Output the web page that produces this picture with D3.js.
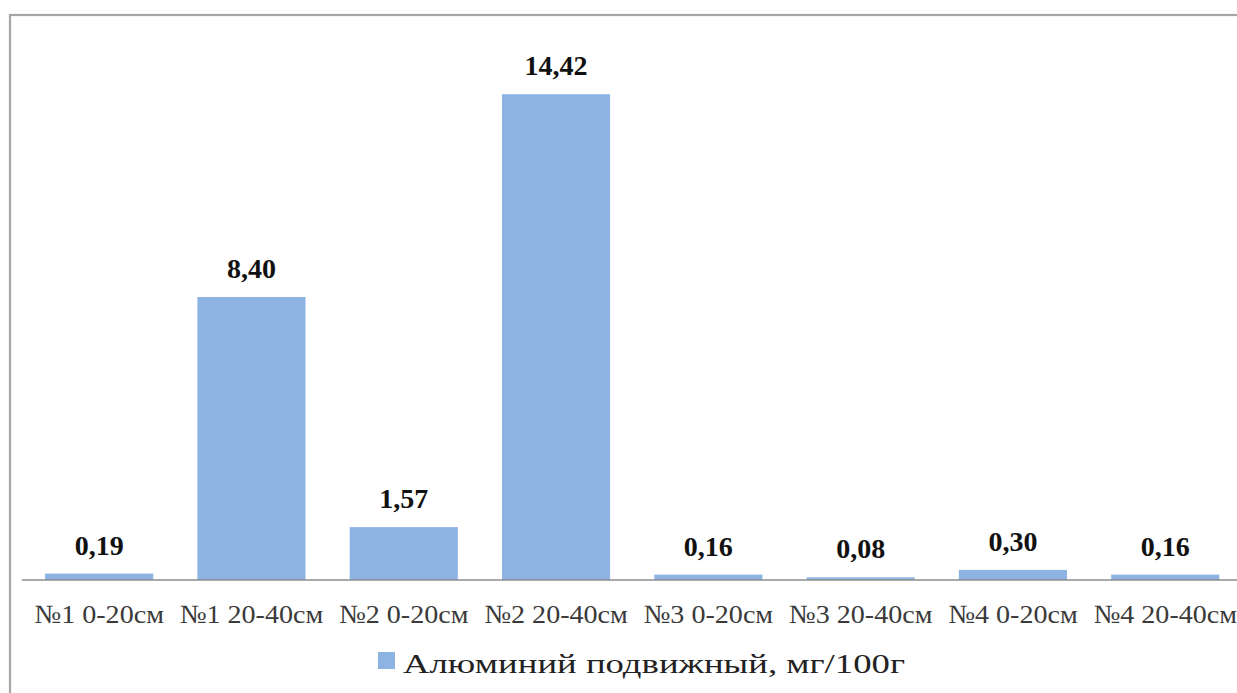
<!DOCTYPE html>
<html><head><meta charset="utf-8">
<script src="https://cdn.jsdelivr.net/npm/d3@7"></script>
<style>html,body{margin:0;padding:0;background:#fff;}svg{display:block;}
.serif{font-family:"Liberation Serif","Times New Roman",Times,serif;}</style>
</head><body>
<svg id="chart" width="1237" height="693"></svg>
<script>
const categories = ["№1 0-20см","№1 20-40см","№2 0-20см","№2 20-40см","№3 0-20см","№3 20-40см","№4 0-20см","№4 20-40см"];
const values = [0.19, 8.40, 1.57, 14.42, 0.16, 0.08, 0.30, 0.16];
const valueLabels = ["0,19","8,40","1,57","14,42","0,16","0,08","0,30","0,16"];
const seriesName = "Алюминий подвижный, мг/100г";

const svg = d3.select("#chart");

// outer border
svg.append("rect").attr("x",10).attr("y",15).attr("width",1240).attr("height",700)
  .attr("fill","#fff").attr("stroke","#a6a6a6").attr("stroke-width",2.2);

const x = d3.scaleBand().domain(categories).range([23, 23 + 8*152.3]).paddingInner(0.29).paddingOuter(0.145);
const y = d3.scaleLinear().domain([0, 16]).range([580, 41]);

svg.append("g").selectAll("rect").data(values).join("rect")
  .attr("x",(d,i)=>x(categories[i]))
  .attr("y",d=>y(d))
  .attr("width",x.bandwidth())
  .attr("height",d=>y(0)-y(d))
  .attr("fill","#8db3e2");

// axis
const axis = d3.axisBottom(x).tickSize(0).tickPadding(0);
const gx = svg.append("g").attr("transform",`translate(0,${y(0)})`).call(axis);
gx.attr("font-family",null).attr("font-size",null);
gx.select(".domain").attr("d",`M22,0H1237`).attr("stroke","#8c8c8c").attr("stroke-width",1.6);
gx.selectAll(".tick text")
  .attr("class","serif")
  .attr("y",43).attr("dy",0)
  .style("font-size","26px").attr("fill","#3a3a3a")
  .each(function(){ const n=this.getComputedTextLength(); d3.select(this).attr("textLength",n*1.08).attr("lengthAdjust","spacingAndGlyphs"); });

// value labels
svg.append("g").selectAll("text").data(values).join("text")
  .attr("class","serif")
  .attr("x",(d,i)=>x(categories[i])+x.bandwidth()/2)
  .attr("y",d=>y(d)-19)
  .attr("text-anchor","middle")
  .style("font-weight","bold").style("font-size","28px").attr("fill","#111")
  .text((d,i)=>valueLabels[i]);

// legend
const lg = svg.append("g");
lg.append("rect").attr("x",378).attr("y",652).attr("width",17).attr("height",17).attr("fill","#8db3e2");
const lt = lg.append("text").attr("class","serif").attr("x",403).attr("y",673)
  .style("font-size","28px").attr("fill","#222").text(seriesName);
lt.attr("textLength",502).attr("lengthAdjust","spacingAndGlyphs");
</script>
</body></html>
